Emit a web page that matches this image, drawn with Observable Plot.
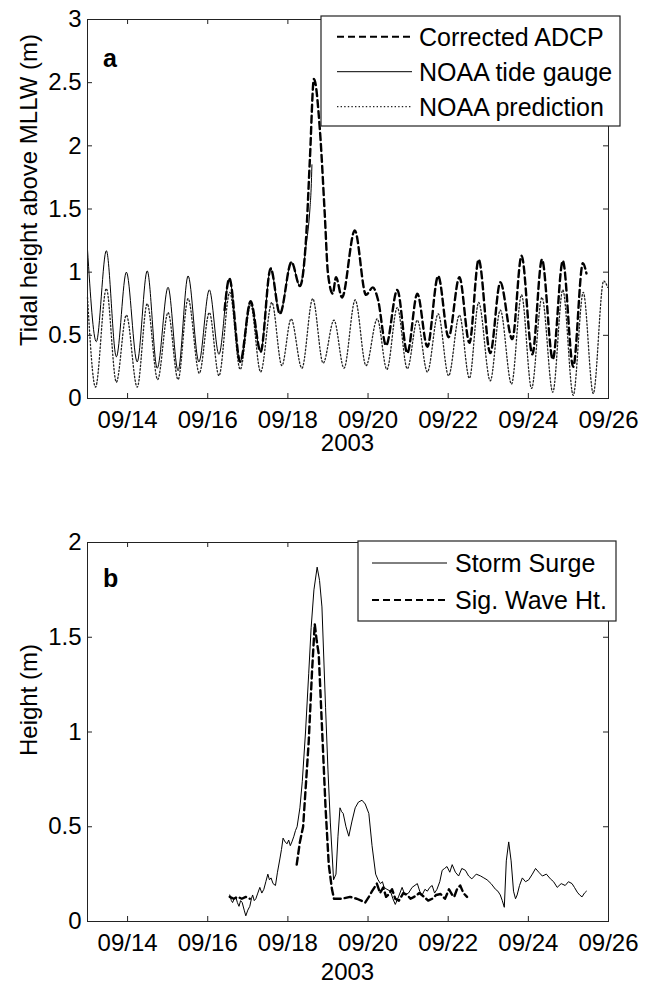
<!DOCTYPE html>
<html><head><meta charset="utf-8">
<script src="https://cdn.jsdelivr.net/npm/d3@7"></script>
<script src="https://cdn.jsdelivr.net/npm/@observablehq/plot@0.6"></script>
<style>
body{margin:0;background:#fff;}
#wrap{position:relative;width:648px;height:985px;background:#fff;}
#panelA,#panelB{position:absolute;left:0;}
#panelA{top:0;} #panelB{top:480px;}
</style></head><body><div id="wrap"><div id="panelA"></div><div id="panelB"></div></div>
<script>
// ---------- data (day of September 2003, fractional) ----------
const gaugeDays = [13.0,13.22,13.47,13.72,13.97,14.24,14.49,14.74,15.01,15.26,15.51,15.78,16.04,16.28,16.54,16.81,17.07,17.32,17.57,17.80,18.09,18.30,18.45,18.55,18.58,18.60];
const gaugeHeights = [1.18,0.45,1.17,0.33,1.00,0.29,1.01,0.24,0.88,0.22,0.97,0.29,0.86,0.35,0.95,0.29,0.77,0.37,1.03,0.67,1.08,0.89,1.20,1.50,1.66,1.85];

const adcpDays = [16.42,16.54,16.81,17.07,17.32,17.57,17.80,18.09,18.30,18.45,18.55,18.65,18.80,18.92,19.00,19.12,19.20,19.35,19.67,19.95,20.12,20.25,20.45,20.73,20.98,21.23,21.48,21.75,22.01,22.28,22.53,22.76,23.05,23.30,23.60,23.83,24.10,24.34,24.61,24.86,25.12,25.36,25.45];
const adcpHeights = [0.70,0.95,0.29,0.77,0.37,1.03,0.67,1.08,0.89,1.25,1.90,2.53,2.12,1.46,0.99,0.83,0.96,0.80,1.33,0.82,0.88,0.78,0.42,0.86,0.36,0.83,0.41,0.97,0.485,0.96,0.44,1.10,0.36,0.92,0.47,1.13,0.35,1.10,0.31,1.09,0.25,1.07,0.99];

const predDays = [13.0,13.20,13.47,13.72,13.97,14.24,14.49,14.75,15.01,15.26,15.51,15.79,16.04,16.28,16.55,16.81,17.07,17.32,17.60,17.85,18.08,18.35,18.62,18.88,19.15,19.40,19.68,19.95,20.23,20.47,20.73,20.98,21.23,21.48,21.75,22.01,22.28,22.53,22.76,23.05,23.30,23.58,23.83,24.08,24.34,24.61,24.86,25.12,25.37,25.62,25.88,25.98];
const predHeights = [0.80,0.09,0.87,0.13,0.66,0.09,0.75,0.15,0.68,0.15,0.79,0.20,0.68,0.18,0.84,0.23,0.74,0.21,0.76,0.26,0.63,0.24,0.79,0.28,0.62,0.24,0.78,0.26,0.63,0.23,0.72,0.235,0.62,0.21,0.67,0.18,0.66,0.16,0.76,0.14,0.70,0.115,0.82,0.08,0.80,0.05,0.86,0.025,0.84,0.04,0.93,0.88];

const surgeDays = [16.55,16.59,16.62,16.66,16.70,16.74,16.78,16.82,16.86,16.91,16.95,17.00,17.05,17.09,17.12,17.16,17.20,17.25,17.30,17.35,17.40,17.45,17.50,17.54,17.58,17.63,17.69,17.74,17.80,17.84,17.88,17.93,17.98,18.02,18.06,18.10,18.15,18.19,18.23,18.30,18.36,18.44,18.52,18.58,18.65,18.73,18.79,18.85,18.94,19.00,19.06,19.14,19.20,19.25,19.30,19.34,19.38,19.45,19.52,19.60,19.68,19.76,19.85,19.93,20.02,20.10,20.19,20.25,20.31,20.36,20.40,20.47,20.56,20.62,20.68,20.76,20.85,20.92,21.01,21.10,21.23,21.29,21.35,21.42,21.48,21.54,21.60,21.66,21.72,21.79,21.85,21.91,21.97,22.04,22.10,22.18,22.26,22.34,22.43,22.51,22.59,22.70,22.81,22.89,22.97,23.07,23.18,23.24,23.30,23.35,23.40,23.45,23.51,23.57,23.63,23.68,23.72,23.78,23.85,23.93,24.01,24.10,24.18,24.26,24.35,24.45,24.55,24.63,24.72,24.82,24.92,25.00,25.09,25.15,25.22,25.28,25.34,25.40,25.45];
const surgeHeights = [0.14,0.11,0.10,0.12,0.13,0.10,0.08,0.11,0.10,0.06,0.03,0.06,0.08,0.12,0.14,0.11,0.12,0.15,0.18,0.15,0.17,0.21,0.25,0.22,0.23,0.20,0.19,0.26,0.33,0.38,0.44,0.42,0.41,0.43,0.40,0.42,0.45,0.48,0.50,0.60,0.74,1.00,1.31,1.55,1.75,1.87,1.80,1.66,1.13,0.80,0.52,0.22,0.25,0.45,0.60,0.58,0.57,0.50,0.45,0.53,0.60,0.63,0.64,0.62,0.57,0.40,0.25,0.22,0.20,0.21,0.18,0.17,0.16,0.12,0.09,0.13,0.18,0.14,0.15,0.18,0.20,0.16,0.14,0.17,0.16,0.18,0.19,0.15,0.17,0.21,0.27,0.28,0.29,0.26,0.30,0.26,0.24,0.28,0.27,0.24,0.225,0.25,0.24,0.23,0.22,0.20,0.17,0.16,0.14,0.11,0.075,0.32,0.42,0.32,0.16,0.12,0.14,0.19,0.23,0.21,0.22,0.25,0.28,0.26,0.24,0.25,0.225,0.21,0.18,0.20,0.19,0.21,0.20,0.18,0.155,0.14,0.13,0.15,0.16];

const waveDays = [16.55,16.65,16.75,16.85,16.95,17.05,17.10,18.22,18.30,18.38,18.52,18.60,18.67,18.72,18.77,18.85,18.94,19.02,19.10,19.15,19.35,19.55,19.72,19.83,19.93,20.02,20.10,20.22,20.30,20.38,20.45,20.50,20.60,20.68,20.77,20.88,20.98,21.06,21.15,21.28,21.40,21.50,21.60,21.70,21.81,21.92,22.02,22.10,22.15,22.22,22.30,22.38,22.47];
const waveHeights = [0.13,0.12,0.13,0.12,0.13,0.12,null,0.30,0.42,0.50,0.95,1.31,1.57,1.48,1.41,1.03,0.60,0.30,0.17,0.12,0.12,0.13,0.12,0.11,0.10,0.13,0.16,0.20,0.15,0.18,0.13,0.14,0.17,0.12,0.11,0.15,0.14,0.12,0.13,0.15,0.13,0.11,0.12,0.14,0.145,0.12,0.17,0.14,0.13,0.17,0.19,0.15,0.13];

const xTickDays = [14,16,18,20,22,24,26];
const yTicksTop = [0,0.5,1,1.5,2,2.5,3];
const yTicksBot = [0,0.5,1,1.5,2];
const legendTop = ["Corrected ADCP","NOAA tide gauge","NOAA prediction"];
const legendBot = ["Storm Surge","Sig. Wave Ht."];

// ---------- helpers ----------
const FONT = "'Liberation Sans', Arial, Helvetica, sans-serif";
const toDate = d => new Date(Date.UTC(2003, 8, 1) + (d - 1) * 864e5);
const series = (days, vals) => days.map((d, i) => ({t: toDate(d), v: vals[i]}));
const xTicks = xTickDays.map(toDate);
const xDomain = [toDate(13), toDate(26)];
const INK = "#222";

const STY = {
  solid: {stroke: "#000", strokeWidth: 1},
  dashed: {stroke: "#000", strokeWidth: 2.4, strokeDasharray: "7,4"},
  dotted: {stroke: "#222", strokeWidth: 1.3, strokeDasharray: "1.4,2.2"}
};

function panel({height, mt, mb, yDomain, yTicks, marks}) {
  const ml = 87, mr = 40, W = 648;
  const innerH = height - mt - mb, innerW = W - ml - mr, tk = 5;
  return Plot.plot({
    width: W, height, marginTop: mt, marginBottom: mb, marginLeft: ml, marginRight: mr,
    style: {fontFamily: FONT, fontSize: "24px", color: "#000", background: "#fff", overflow: "visible"},
    x: {type: "utc", domain: xDomain},
    y: {domain: yDomain},
    marks: [
      ...marks,
      Plot.tickX(xTicks, {x: d => d, insetTop: innerH - tk, stroke: INK}),
      Plot.tickX(xTicks, {x: d => d, insetBottom: innerH - tk, stroke: INK}),
      Plot.tickY(yTicks, {y: d => d, insetRight: innerW - tk, stroke: INK}),
      Plot.tickY(yTicks, {y: d => d, insetLeft: innerW - tk, stroke: INK}),
      Plot.frame({stroke: INK}),
      Plot.axisX({ticks: xTicks, tickFormat: d3.utcFormat("%m/%d"), tickSize: 0, tickPadding: 12, label: null, fontSize: 24, fill: "#000"}),
      Plot.axisY({ticks: yTicks, tickSize: 0, tickPadding: 6, label: null, tickFormat: d => String(d), fontSize: 24, fill: "#000"})
    ]
  });
}

function annotate(svg, {letter, letterY, ylabel, ylabelCY, xlabelY, legend}) {
  const s = d3.select(svg);
  s.append("text").attr("x", 103).attr("y", letterY).attr("text-anchor", "start").attr("font-family", FONT)
    .attr("font-size", 25).attr("font-weight", "bold").text(letter);
  s.append("text").attr("transform", `translate(37,${ylabelCY}) rotate(-90)`)
    .attr("text-anchor", "middle").attr("font-family", FONT).attr("font-size", 24).text(ylabel);
  s.append("text").attr("x", 347.5).attr("y", xlabelY).attr("text-anchor", "middle")
    .attr("font-family", FONT).attr("font-size", 24).text("2003");
  const g = s.append("g");
  const L = legend;
  g.append("rect").attr("x", L.x).attr("y", L.y).attr("width", L.w).attr("height", L.h)
    .attr("fill", "#fff").attr("stroke", INK).attr("stroke-width", 1.2);
  L.rows.forEach((r, i) => {
    const cy = L.y + L.first + i * L.step;
    const st = STY[r.style];
    g.append("line").attr("x1", L.x1).attr("x2", L.x2).attr("y1", cy).attr("y2", cy)
      .attr("stroke", st.stroke).attr("stroke-width", r.style === "dashed" ? 2 : st.strokeWidth)
      .attr("stroke-dasharray", r.style === "dashed" ? "7,4" : (st.strokeDasharray || null));
    g.append("text").attr("x", L.tx).attr("y", cy + 8.8).attr("text-anchor", "start").attr("font-family", FONT)
      .attr("font-size", 25).text(r.label);
  });
}

// ---------- panel a ----------
const figA = panel({
  height: 480, mt: 19, mb: 82, yDomain: [0, 3], yTicks: yTicksTop,
  marks: [
    Plot.line(series(predDays, predHeights), {x: "t", y: "v", curve: "monotone-x", ...STY.dotted}),
    Plot.line(series(gaugeDays, gaugeHeights), {x: "t", y: "v", curve: "monotone-x", ...STY.solid}),
    Plot.line(series(adcpDays, adcpHeights), {x: "t", y: "v", curve: "monotone-x", ...STY.dashed})
  ]
});
annotate(figA, {
  letter: "a", letterY: 67, ylabel: "Tidal height above MLLW (m)", ylabelCY: 190, xlabelY: 451,
  legend: {x: 321, y: 16, w: 299, h: 110, first: 20.7, step: 35, x1: 337, x2: 412, tx: 419,
    rows: [{label: legendTop[0], style: "dashed"}, {label: legendTop[1], style: "solid"}, {label: legendTop[2], style: "dotted"}]}
});
document.getElementById("panelA").append(figA);

// ---------- panel b ----------
const figB = panel({
  height: 505, mt: 62, mb: 64, yDomain: [0, 2], yTicks: yTicksBot,
  marks: [
    Plot.line(series(surgeDays, surgeHeights), {x: "t", y: "v", ...STY.solid}),
    Plot.line(series(waveDays, waveHeights), {x: "t", y: "v", ...STY.dashed})
  ]
});
annotate(figB, {
  letter: "b", letterY: 107, ylabel: "Height (m)", ylabelCY: 220, xlabelY: 500,
  legend: {x: 358, y: 61, w: 258, h: 80, first: 22, step: 37, x1: 372, x2: 447, tx: 455,
    rows: [{label: legendBot[0], style: "solid"}, {label: legendBot[1], style: "dashed"}]}
});
document.getElementById("panelB").append(figB);
</script></body></html>
